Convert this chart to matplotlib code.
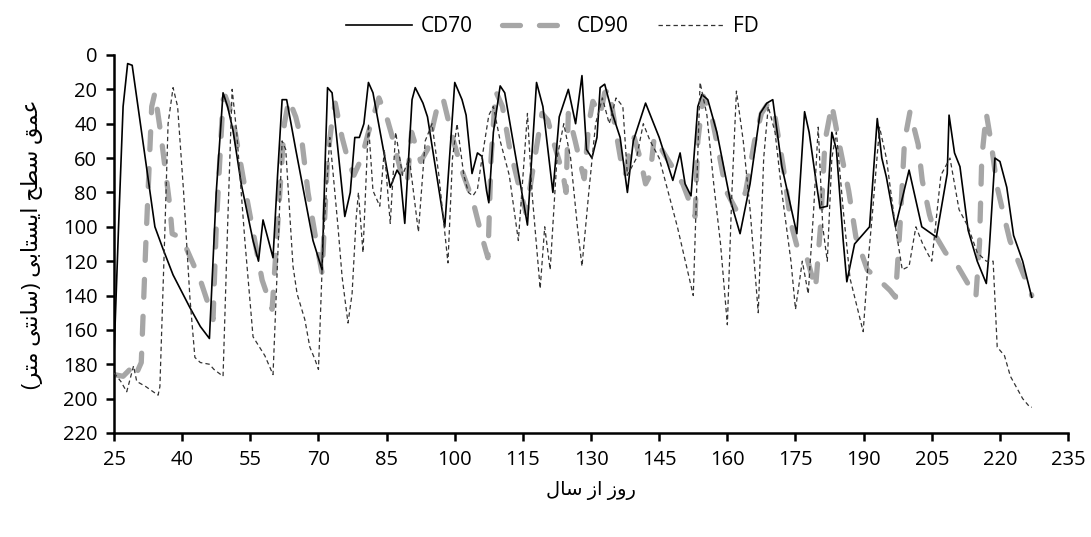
import matplotlib
matplotlib.use("Agg")
import matplotlib.pyplot as plt

plt.rcParams['font.family'] = ['Open Sans', 'DejaVu Sans']

# CD70 (day of year, water table depth cm)
cd70_day = [25, 26, 27, 28, 29, 34, 35.8, 38, 41.7, 44, 46, 47.5, 49, 50, 51.2, 53, 55.6, 56.8, 57.8, 60,
            61, 62, 63, 65, 68.8, 70.8, 71.5, 72, 73, 75.8, 77, 78, 79, 80, 81, 82, 85.8, 87.3, 88, 89,
            90.6, 91.3, 93, 94, 97.8, 100, 101.6, 102.5, 103.8, 105, 106, 107, 107.5, 108.5, 110, 111,
            116, 118, 119.4, 121.6, 123, 125, 126.6, 128, 129, 130.2, 131.3, 132, 133, 134.8, 136.4, 138,
            139.3, 142, 143.5, 145, 148, 149.6, 150.7, 152, 153.5, 154.4, 155.7, 157.7, 160.6, 162.8, 165,
            167.2, 168.7, 170, 172, 175.3, 177, 178, 179.5, 180.4, 182, 183, 184, 185.5, 186.3, 188, 191.3,
            193, 194, 195, 197, 200, 202.8, 206, 208.4, 208.8, 210, 211.2, 213, 215, 217, 217.6, 218.9,
            220, 221.5, 223, 225, 227]
cd70_depth = [175, 100, 30, 5, 6, 100, 113, 128, 147, 158, 165, 80, 22, 30, 44, 75, 108, 120, 96, 118,
              70, 26, 26, 55, 108, 125, 60, 19, 22, 94, 80, 48, 48, 40, 16, 22, 77, 67, 70, 98,
              26, 19, 28, 36, 100, 16, 26, 35, 69, 57, 59, 79, 86, 45, 18, 22,
              99, 16, 30, 80, 36, 20, 40, 12, 55, 60, 48, 19, 17, 35, 48, 80,
              50, 28, 38, 48, 73, 57, 75, 82, 30, 23, 26, 45, 84, 104, 75,
              34, 28, 26, 65, 104, 33, 45, 73, 89, 88, 45, 55, 108, 132, 110, 100,
              37, 60, 71, 100, 67, 100, 106, 69, 35, 57, 65, 102, 120, 133, 115, 60,
              62, 77, 105, 120, 141]

# CD90
cd90_day = [25, 27, 28.5, 29.5, 31, 32, 33.3, 34, 35.2, 36.2, 37.3, 37.8, 39.5, 41, 44, 46, 46.8, 47.5,
            49, 49.5, 51, 52, 54, 57.6, 59.8, 61.5, 62.5, 63.5, 65, 66.4, 67.7, 69.6, 70.8, 72, 73, 73.7, 75.2,
            76.5, 77.8, 79.5, 81, 83.3, 85, 86.5, 88.6, 89.5, 90.5, 92.5, 94, 96, 97.4, 99.5, 101.8, 104,
            106, 107.3, 108, 109, 110.5, 112, 114, 115.7, 117, 119.2, 120.5, 122, 123.8, 124.5, 125,
            126.5, 128, 128.5, 129.5, 130.4, 132, 133, 134, 135.5, 136.8, 137.5, 138.5, 139.5, 140.8,
            142, 143, 143.9, 147.4, 150.2, 152.9, 153.5, 154.7, 156.5, 158, 159.7, 161.9, 164, 166,
            167.5, 169, 170.5, 172.3, 174, 175.5, 177.5, 179.4, 180.5, 181.5, 183, 184.5, 186.7, 188.3,
            190.8, 193, 195.8, 197, 198, 199, 200.2, 202, 202.9, 204.5, 206, 208, 210.5, 212.5, 214.7,
            215.5, 216, 217, 218, 219.4, 221, 222.2, 224, 226.6, 227]
cd90_depth = [186, 187, 183, 188, 179, 110, 30, 22, 44, 65, 88, 104, 106, 113, 131, 147, 154, 100,
              26, 24, 35, 50, 80, 131, 148, 80, 40, 26, 36, 51, 80, 110, 127, 60, 38, 28, 48,
              61, 70, 60, 45, 25, 36, 50, 73, 75, 45, 62, 55, 32, 25, 48, 69, 85,
              106, 118, 60, 21, 30, 53, 75, 92, 70, 34, 38, 53, 69, 80, 34,
              50, 67, 72, 40, 27, 35, 22, 20, 45, 65, 70, 55, 48, 60,
              75, 70, 48, 63, 75, 94, 50, 24, 35, 55, 79, 90, 80, 50,
              34, 28, 36, 65, 98, 113, 118, 136, 100, 50, 29, 50, 79, 106,
              125, 130, 137, 141, 100, 50, 33, 52, 73, 93, 106, 115, 122, 131, 141,
              110, 60, 34, 50, 77, 95, 108, 120, 137, 140]

# FD
fd_day = [25, 26.5, 27.8, 29.3, 30, 32, 34.7, 35.1, 36.2, 36.9, 38, 39, 40.3, 41.7, 42.8, 44, 46, 47,
          49, 50, 51, 52, 53.8, 55.6, 58.2, 60, 61, 62, 62.8, 64.4, 65.3, 67, 68.1, 69.2, 70, 71, 72.5, 74.3,
          75.2, 76.5, 77.4, 78.3, 78.8, 79.8, 81, 82, 83.5, 84.5, 85.8, 87, 88.5, 90, 92, 93.5, 95,
          96.5, 98.5, 99.5, 100.5, 102, 103, 104, 105, 106, 107.5, 108.5, 110, 112, 114, 116, 117,
          118.8, 119.8, 121, 122.5, 124, 125.5, 127, 128, 129.5, 131, 132.5, 134, 135.5, 137, 138,
          140, 141.5, 143, 145, 147, 149, 152.5, 154, 155.5, 157, 158.5, 160, 161, 162, 163.5, 165,
          166.8, 168, 169, 170.5, 172, 174, 175, 176.5, 177.8, 179, 180, 181, 182, 183, 184, 185.5, 187,
          189.9, 191, 192, 193.5, 195, 197, 198.5, 200, 201.5, 203, 205, 207, 209, 211, 213, 215, 217,
          218.5, 219.4, 221, 222.3, 225, 226.6, 227]
fd_depth = [185, 190, 196, 181, 190, 193, 198, 193, 102, 40, 19, 30, 79, 141, 176, 179, 180, 183,
            187, 100, 20, 45, 108, 164, 175, 186, 120, 50, 55, 123, 139, 154, 170, 177, 183, 110, 48, 100,
            129, 156, 139, 95, 80, 115, 40, 79, 88, 55, 98, 45, 70, 60, 103, 50, 40,
            70, 121, 60, 40, 70, 80, 82, 78, 60, 35, 30, 50, 70, 108, 34, 80,
            136, 100, 125, 60, 40, 60, 100, 123, 80, 40, 25, 40, 25, 30, 70,
            60, 40, 50, 60, 80, 100, 140, 16, 35, 75, 110, 157, 80, 21, 50, 90,
            150, 60, 30, 45, 80, 120, 148, 120, 139, 90, 42, 100, 120, 60, 45, 90, 130,
            161, 120, 90, 42, 60, 100, 125, 123, 100, 110, 120, 70, 60, 90, 100, 115, 120,
            120, 170, 175, 187, 200, 205, 205]

x_ticks = list(range(25, 236, 15))
y_ticks = list(range(0, 221, 20))

# Persian labels written in presentation forms, visual order
xlabel_fa = "\uFEDD\uFE8E\uFEB3 \uFEAF\uFE8D \uFEAF\uFEED\uFEAD"
ylabel_fa = ("(\uFEAE\uFE98\uFEE3 \uFEF0\uFE98\uFEE7\uFE8E\uFEB3) "
             "\uFEF0\uFE91\uFE8E\uFE98\uFEB4\uFEF3\uFE8D \uFEA2\uFEC4\uFEB3 \uFED6\uFEE4\uFECB")

fig = plt.figure(figsize=(10.91, 5.37), dpi=100)
ax = fig.add_axes([0.1045, 0.1937, 0.8745, 0.7039])

l1, = ax.plot(cd70_day, cd70_depth, color='black', lw=1.2, zorder=3, label='CD70')
l2, = ax.plot(cd90_day, cd90_depth, color='#a6a6a6', lw=3.8, zorder=2, label='CD90',
              dashes=(3.4, 3.6), dash_capstyle='round')
l3, = ax.plot(fd_day, fd_depth, color='#333333', lw=0.9, zorder=4, label='FD',
              dashes=(3.5, 2.5))

ax.set_xlim(25, 235)
ax.set_ylim(220, 0)
ax.set_xticks(x_ticks)
ax.set_yticks(y_ticks)
for s in ['top', 'right']:
    ax.spines[s].set_visible(False)
for s in ['left', 'bottom']:
    ax.spines[s].set_linewidth(1.8)
ax.tick_params(axis='both', direction='out', length=6, width=1.8, labelsize=14.5, pad=6)

ax.set_xlabel(xlabel_fa, fontsize=14, labelpad=8)
ax.set_ylabel(ylabel_fa, fontsize=16, labelpad=14)

fig.legend(handles=[l1, l2, l3], loc='upper center', bbox_to_anchor=(0.506, 1.005), ncol=3,
           frameon=False, fontsize=15, handlelength=3.2, handletextpad=0.4, columnspacing=1.4)

fig.savefig('out.png', dpi=100)
